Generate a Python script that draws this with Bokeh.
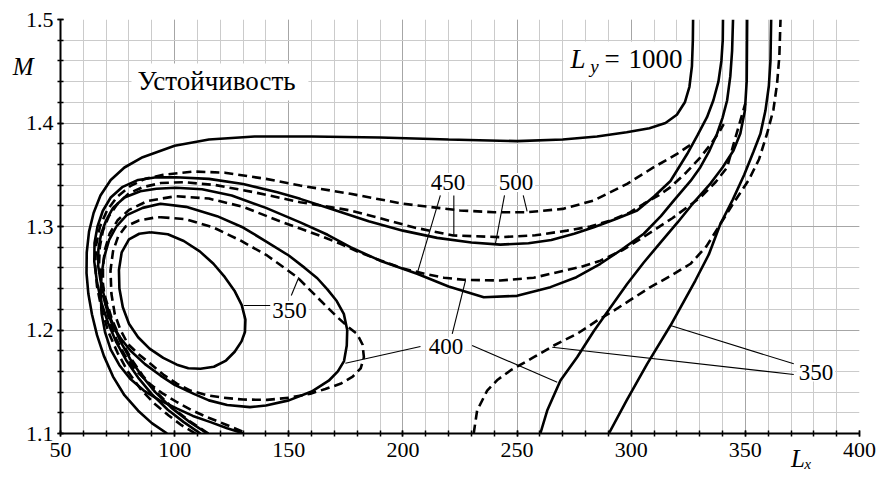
from bokeh.plotting import figure
from bokeh.models import (Label, SingleIntervalTicker, FixedTicker, Range1d, BoxAnnotation,
                          LinearAxis)
from bokeh.embed import file_html
from bokeh.resources import INLINE

# ---------------- data ----------------
# solid curves (L_y = 1000, 500, 450, 400, 350)
S1000_x = [96.7, 90, 84, 78, 73, 69, 66, 63.8, 62.2, 61.4, 61.5, 62.5, 64.5, 67.5, 72, 78, 86, 100, 115, 135, 160, 190, 220, 250, 270, 285, 298, 308, 315, 320, 323.5, 325.5, 326.6, 327, 327.1]
S1000_y = [1.100, 1.110, 1.122, 1.137, 1.155, 1.175, 1.195, 1.215, 1.235, 1.255, 1.275, 1.295, 1.313, 1.330, 1.345, 1.357, 1.367, 1.378, 1.384, 1.387, 1.387, 1.386, 1.384, 1.3825, 1.384, 1.387, 1.391, 1.395, 1.400, 1.408, 1.420, 1.435, 1.455, 1.480, 1.500]

S500_x = [111.3, 104, 97, 90, 84, 79, 74.5, 70.8, 68, 66, 64.8, 64.9, 66.2, 68.5, 72, 77, 84, 92, 100.5, 115, 130, 145, 155, 170, 185, 200, 215, 230, 242.7, 255, 265, 275, 283.6, 293, 302.6, 310, 317.2, 324.5, 329, 333.2, 336, 338.2, 339.5, 340.1, 340.2]
S500_y = [1.100, 1.111, 1.123, 1.138, 1.154, 1.170, 1.188, 1.207, 1.226, 1.246, 1.266, 1.284, 1.300, 1.315, 1.328, 1.338, 1.345, 1.3475, 1.3476, 1.346, 1.341, 1.333, 1.3267, 1.316, 1.305, 1.296, 1.289, 1.2845, 1.2825, 1.2838, 1.287, 1.293, 1.2993, 1.307, 1.3155, 1.329, 1.344, 1.370, 1.388, 1.4056, 1.422, 1.440, 1.460, 1.480, 1.500]

S450_x = [114.3, 106, 98.5, 91.5, 85.5, 80.5, 76, 72.2, 69.4, 67.5, 66.5, 66.6, 67.8, 70, 73, 78, 85, 92, 100.5, 112, 125, 140, 155, 167, 177, 190, 206.2, 220, 235.4, 250, 264.6, 276, 286.5, 296, 305.5, 313, 319, 326, 330.3, 334, 337.6, 340, 342, 343.4, 344.2, 344.6]
S450_y = [1.100, 1.112, 1.125, 1.140, 1.156, 1.172, 1.190, 1.210, 1.230, 1.248, 1.262, 1.278, 1.293, 1.306, 1.318, 1.328, 1.334, 1.3365, 1.3374, 1.336, 1.330, 1.318, 1.304, 1.292, 1.280, 1.267, 1.2543, 1.242, 1.2317, 1.233, 1.2414, 1.251, 1.264, 1.278, 1.293, 1.310, 1.326, 1.344, 1.3573, 1.372, 1.3896, 1.405, 1.4217, 1.445, 1.470, 1.500]

S400_x = [130.3, 123, 115.7, 108, 101.1, 93.5, 86.5, 80.5, 75.8, 72, 69.5, 68, 67.6, 68, 69.2, 71.3, 74.5, 79, 86, 93.8, 105, 118.6, 130, 140.5, 150, 157, 162.5, 167, 171, 174.1, 175.6, 175.4, 174.2, 171.5, 167.5, 160, 150, 140, 133, 123, 115, 108.4, 100, 93.8, 87, 80.7, 76, 72.5, 70.3, 68.6]
S400_y = [1.100, 1.105, 1.111, 1.117, 1.124, 1.132, 1.1415, 1.153, 1.166, 1.181, 1.198, 1.216, 1.235, 1.254, 1.271, 1.287, 1.300, 1.311, 1.318, 1.322, 1.319, 1.310, 1.299, 1.285, 1.272, 1.260, 1.250, 1.239, 1.228, 1.2156, 1.200, 1.185, 1.170, 1.160, 1.151, 1.1405, 1.132, 1.127, 1.1255, 1.1275, 1.132, 1.1383, 1.147, 1.156, 1.167, 1.180, 1.193, 1.206, 1.220, 1.234]
S400R_x = [260.2, 263.2, 269.0, 276.3, 283.5, 290.9, 298.2, 305.5, 312.8, 320.3, 328.1, 334.7, 340.0, 344.8, 347.8, 349.8, 350.6, 350.7, 350.8]
S400R_y = [1.100, 1.1222, 1.1512, 1.1737, 1.1986, 1.2217, 1.2444, 1.2652, 1.2845, 1.3039, 1.3251, 1.3415, 1.357, 1.3734, 1.3899, 1.4121, 1.441, 1.470, 1.500]

S350_x = [89.4, 97, 104, 111, 117, 122, 126.2, 129.4, 131, 130.8, 129.3, 126.3, 122.5, 117.2, 111.3, 106, 101, 95, 89, 84, 80, 77.3, 75.8, 75.6, 76.8, 80, 84.5, 89.4]
S350_y = [1.2945, 1.2925, 1.286, 1.276, 1.264, 1.251, 1.238, 1.224, 1.210, 1.198, 1.189, 1.179, 1.1705, 1.1645, 1.1625, 1.163, 1.1665, 1.173, 1.182, 1.193, 1.206, 1.222, 1.240, 1.258, 1.275, 1.2875, 1.293, 1.2945]
S350R_x = [290.2, 298, 307, 317.2, 328.1, 334, 339.1, 344.5, 349.5, 353.5, 356.6, 358.8, 360.3, 361, 361.3]
S350R_y = [1.100, 1.132, 1.1673, 1.2043, 1.2478, 1.273, 1.3026, 1.326, 1.350, 1.372, 1.3896, 1.412, 1.436, 1.460, 1.500]

# dashed curves (500, 450, 400, 350)
D500_x = [109.1, 103, 97.4, 91, 85, 79.5, 75, 71, 68, 66, 65.2, 65.6, 67.3, 70.5, 75, 80.5, 87, 95, 108.4, 122, 140, 155, 177, 200, 225, 240, 254.4, 270, 283.5, 298.2, 309.9, 320.1, 326.7]
D500_y = [1.100, 1.108, 1.1174, 1.129, 1.1432, 1.160, 1.178, 1.198, 1.220, 1.242, 1.262, 1.282, 1.300, 1.316, 1.329, 1.339, 1.346, 1.350, 1.3531, 1.352, 1.346, 1.3396, 1.3316, 1.322, 1.3155, 1.3138, 1.3138, 1.317, 1.325, 1.3412, 1.3573, 1.3702, 1.3799]

D450_x = [114.8, 106.5, 99, 92, 86, 81, 76.5, 72.6, 69.8, 67.8, 66.9, 67.2, 68.6, 71.2, 75, 80, 86, 94, 104, 118, 135, 155, 177, 190, 205, 222, 242.7, 258, 271.9, 282, 290.9, 299, 305.5, 312, 317.2, 324, 330, 335, 338.5, 340.5]
D450_y = [1.100, 1.112, 1.125, 1.140, 1.156, 1.172, 1.190, 1.210, 1.230, 1.249, 1.264, 1.280, 1.296, 1.310, 1.322, 1.332, 1.338, 1.342, 1.3428, 1.340, 1.333, 1.3235, 1.3155, 1.308, 1.299, 1.2913, 1.2897, 1.2915, 1.296, 1.300, 1.3058, 1.313, 1.322, 1.330, 1.338, 1.352, 1.366, 1.380, 1.391, 1.399]

D400_x = [129.6, 122, 114.3, 107.5, 101.1, 94.5, 88.5, 83, 78.3, 74.5, 71.5, 69.6, 68.6, 68.6, 69.5, 71.5, 75, 80, 88, 100.4, 115, 130, 145, 155, 165, 172.6, 181, 190.2, 200, 210, 218, 226.6, 242.7, 257.3, 270, 278, 286.5, 296, 305.5, 318, 330.3, 337, 342, 344.9, 347.5, 350]
D400_y = [1.102, 1.109, 1.1157, 1.1225, 1.1302, 1.139, 1.149, 1.161, 1.175, 1.191, 1.208, 1.226, 1.245, 1.262, 1.278, 1.293, 1.306, 1.316, 1.3245, 1.3293, 1.327, 1.319, 1.306, 1.298, 1.290, 1.2833, 1.275, 1.2671, 1.2595, 1.254, 1.2505, 1.2485, 1.2478, 1.2505, 1.257, 1.261, 1.267, 1.277, 1.290, 1.308, 1.328, 1.343, 1.357, 1.380, 1.400, 1.419]

D350_x = [93.8, 105, 117, 128.8, 140.5, 153.7, 163.9, 171, 176, 180, 182.3, 182.9, 181.5, 178, 172.6, 166, 159.5, 150, 140.5, 130, 121.5, 114.3, 106.9, 101.1, 95, 89.4, 84, 79.5, 76.3, 73.8, 72.3, 71.9, 73, 75.2, 78.5, 84.3, 92.3, 93.8]
D350_y = [1.309, 1.307, 1.299, 1.2865, 1.272, 1.251, 1.2285, 1.213, 1.203, 1.196, 1.186, 1.1737, 1.163, 1.155, 1.148, 1.143, 1.1385, 1.1345, 1.1325, 1.1328, 1.1345, 1.137, 1.1415, 1.148, 1.157, 1.1673, 1.177, 1.1866, 1.200, 1.215, 1.235, 1.2575, 1.276, 1.290, 1.300, 1.3058, 1.309, 1.309]
D350R_x = [231, 232.5, 236.9, 241.5, 247.1, 257.3, 266.1, 276.3, 285, 292.4, 300, 308.4, 317, 326, 333, 339.1, 345.5, 351.5, 356, 359.5, 362.3, 363.9, 364.9, 365.4]
D350R_y = [1.100, 1.1222, 1.1415, 1.152, 1.1609, 1.1737, 1.185, 1.1963, 1.209, 1.2188, 1.2295, 1.2414, 1.252, 1.264, 1.281, 1.3026, 1.325, 1.345, 1.365, 1.3896, 1.413, 1.438, 1.465, 1.500]

x_ticks_interval = 50
y_ticks_interval = 0.1
y_title_pos = 1.4546      # where the "M" title sits on the y axis
x_title_pos = 374.6       # where the "L_x" title sits on the x axis

SOLID = [(S1000_x, S1000_y), (S500_x, S500_y), (S450_x, S450_y), (S400_x, S400_y),
         (S400R_x, S400R_y), (S350_x, S350_y), (S350R_x, S350R_y)]
DASHED = [(D500_x, D500_y), (D450_x, D450_y), (D400_x, D400_y), (D350_x, D350_y), (D350R_x, D350R_y)]

SERIF = "Liberation Serif"

# ---------------- figure ----------------
p = figure(width=876, height=480, x_range=Range1d(50, 400), y_range=Range1d(1.1, 1.5),
           output_backend="svg", toolbar_location=None,
           min_border_left=60, min_border_right=17, min_border_top=19, min_border_bottom=47)
p.outline_line_color = None
p.background_fill_color = "white"
p.border_fill_color = "white"

xt = SingleIntervalTicker(interval=x_ticks_interval, num_minor_ticks=5)
yt = SingleIntervalTicker(interval=y_ticks_interval, num_minor_ticks=5)
p.xaxis.ticker = xt
p.yaxis.ticker = yt
p.xgrid.ticker = xt
p.ygrid.ticker = yt
for g in (p.xgrid, p.ygrid):
    g.grid_line_color = "#a6a6a6"
    g.grid_line_width = 1
    g.minor_grid_line_color = "#cbcbcb"
    g.minor_grid_line_width = 1

for ax in (p.xaxis, p.yaxis):
    ax.axis_line_color = "black"
    ax.axis_line_width = 2
    ax.major_tick_line_color = "black"
    ax.minor_tick_line_color = "black"
    ax.major_tick_line_width = 1.5
    ax.minor_tick_line_width = 1.5
    ax.major_tick_in = 3
    ax.major_tick_out = 3
    ax.minor_tick_in = 3
    ax.minor_tick_out = 3
    ax.major_label_text_font = SERIF
    ax.major_label_text_font_size = "22px"
    ax.major_label_text_color = "black"
p.xaxis.major_label_standoff = 6
p.yaxis.major_label_standoff = 4

# axis titles, carried by label-only axes stacked outside the main ones
m_axis = LinearAxis(ticker=FixedTicker(ticks=[y_title_pos], minor_ticks=[]),
                    major_label_overrides={y_title_pos: "M"},
                    axis_line_color=None, major_tick_line_color=None, minor_tick_line_color=None,
                    major_tick_in=0, major_tick_out=0, minor_tick_in=0, minor_tick_out=0,
                    major_label_standoff=-11, major_label_text_font=SERIF,
                    major_label_text_font_style="italic", major_label_text_font_size="25px",
                    major_label_text_color="black")
p.add_layout(m_axis, "left")
lx_axis = LinearAxis(ticker=FixedTicker(ticks=[x_title_pos], minor_ticks=[]),
                     major_label_overrides={x_title_pos: "L\u2093"},
                     axis_line_color=None, major_tick_line_color=None, minor_tick_line_color=None,
                     major_tick_in=0, major_tick_out=0, minor_tick_in=0, minor_tick_out=0,
                     major_label_standoff=-15, major_label_text_font=SERIF,
                     major_label_text_font_style="italic", major_label_text_font_size="25px",
                     major_label_text_color="black")
p.add_layout(lx_axis, "below")

# white boxes behind the two annotations in the plot area
p.add_layout(BoxAnnotation(left=81.1, right=158.6, bottom=1.4217, top=1.4575,
                           fill_color="white", fill_alpha=1, line_color=None))
p.add_layout(BoxAnnotation(left=270.3, right=324.6, bottom=1.4411, top=1.4787,
                           fill_color="white", fill_alpha=1, line_color=None))

for xs, ys in SOLID:
    p.line(xs, ys, line_color="black", line_width=2.6)
for xs, ys in DASHED:
    p.line(xs, ys, line_color="black", line_width=2.6, line_dash="9 5")

# leader lines (annotation layout)
lead_x0 = [216.4, 222.3, 244.5, 252.7, 207.7, 221.6, 230.3, 142.7, 151.1, 371.2, 371.2]
lead_y0 = [1.3300, 1.3300, 1.3300, 1.3300, 1.1841, 1.1963, 1.1850, 1.2237, 1.2333, 1.1673, 1.1570]
lead_x1 = [206.2, 222.3, 240.5, 254.4, 174.8, 227.4, 267.6, 130.3, 154.4, 317.2, 265.4]
lead_y1 = [1.2543, 1.2913, 1.2833, 1.3145, 1.1679, 1.2478, 1.1496, 1.2237, 1.2510, 1.2043, 1.1834]
p.segment(lead_x0, lead_y0, lead_x1, lead_y1, line_color="black", line_width=1.1)

def num_label(x, y, t):
    p.add_layout(Label(x=x, y=y, text=t, text_font=SERIF, text_font_size="23px",
                       text_align="center", text_baseline="middle", text_color="black",
                       background_fill_color="white", padding=2))

num_label(219.7, 1.3425, "450")
num_label(249.5, 1.3425, "500")
num_label(218.9, 1.1836, "400")
num_label(150.3, 1.2188, "350")
num_label(380.9, 1.1594, "350")

p.add_layout(Label(x=83.7, y=1.4401, text="Устойчивость", text_font=SERIF,
                   text_font_size="27px", text_baseline="middle", text_color="black"))

# L_y = 1000
p.add_layout(Label(x=273.4, y=1.4623, text="L", text_font=SERIF, text_font_style="italic",
                   text_font_size="27px", text_baseline="middle", text_color="black"))
p.add_layout(Label(x=282.1, y=1.4546, text="y", text_font=SERIF, text_font_style="italic",
                   text_font_size="19px", text_baseline="middle", text_color="black"))
p.add_layout(Label(x=288.3, y=1.4614, text="=", text_font=SERIF,
                   text_font_size="27px", text_baseline="middle", text_color="black"))
p.add_layout(Label(x=298.8, y=1.4614, text="1000", text_font=SERIF,
                   text_font_size="27px", text_baseline="middle", text_color="black"))

open("out.html", "w").write(file_html(p, INLINE))
